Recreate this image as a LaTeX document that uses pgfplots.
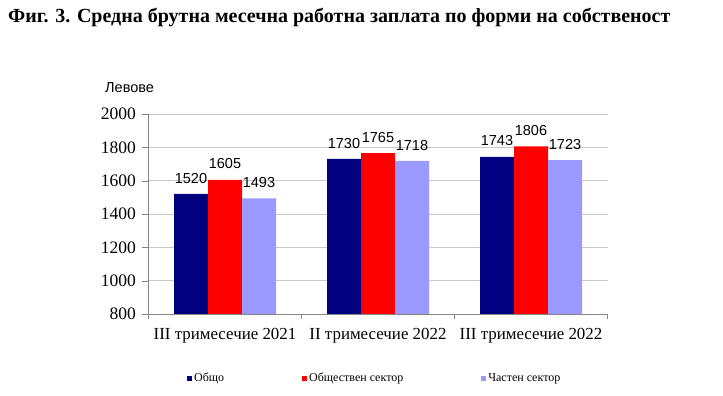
\documentclass[border=0pt]{standalone}
\usepackage{pgfplots}
\pgfplotsset{compat=1.18}
\usepackage{fontspec}
\setmainfont{Liberation Serif}
\newfontfamily\arial{Liberation Sans}
\definecolor{cA}{HTML}{000080}
\definecolor{cB}{HTML}{FF0000}
\definecolor{cC}{HTML}{9999FF}
\definecolor{axisgray}{HTML}{868686}
\definecolor{gridgray}{HTML}{C8C8C8}
\pgfplotsset{/pgfplots/ybar legend/.style={/pgfplots/legend image code/.code={\fill[##1] (0pt,-2.5pt) rectangle (5pt,2.5pt);}}}
\begin{document}
\begin{tikzpicture}[x=1pt,y=1pt]
\path (0,0) rectangle (723,396);
\node[anchor=base west, inner sep=0, font=\fontsize{20}{22}\selectfont\bfseries] at (8,373) {Фиг. 3. Средна брутна месечна работна заплата по форми на собственост};
\node[anchor=west, inner sep=0, font=\arial\fontsize{14.5}{16}\selectfont] at (105,308.5) {Левове};
\begin{axis}[
  at={(148.5pt,82pt)}, anchor=south west, scale only axis, width=459pt, height=200pt,
  ybar=0pt, bar width=34pt,
  xmin=-0.5, xmax=2.5, ymin=800, ymax=2000,
  ytick={800,1000,...,2000},
  xtick={0,1,2},
  xticklabels={III тримесечие 2021, II тримесечие 2022, III тримесечие 2022},
  minor xtick={-0.5,0.5,1.5,2.5},
  major x tick style={draw=none},
  tick align=outside, major tick length=6pt, minor tick length=5pt,
  axis lines*=left,
  axis line style={draw=axisgray},
  tick style={draw=axisgray},
  ymajorgrids, grid style={draw=gridgray},
  /pgf/number format/assume math mode=true,
  /pgf/number format/1000 sep={},
  yticklabel style={font=\fontsize{17.5}{19}\selectfont, xshift=-3pt},
  xticklabel style={font=\fontsize{16.9}{18}\selectfont, yshift=-5pt},
  nodes near coords,
  nodes near coords style={font=\arial\fontsize{14.5}{16}\selectfont, anchor=south, inner sep=0pt, yshift=10.5pt, text=black},
  legend columns=3,
  legend style={at={(axis description cs:0.0839,-0.32)}, anchor=west, draw=none, fill=none, inner sep=0pt,
    font=\fontsize{12}{14}\selectfont, nodes={inner sep=0pt},
    /tikz/every odd column/.append style={column sep=2pt},
    /tikz/every even column/.append style={column sep=78pt}},
  legend cell align=left,
]
\addplot[fill=cA, draw=none] coordinates {(0,1520) (1,1730) (2,1743)};
\addplot[fill=cB, draw=none] coordinates {(0,1605) (1,1765) (2,1806)};
\addplot[fill=cC, draw=none] coordinates {(0,1493) (1,1718) (2,1723)};
\legend{Общо, Обществен сектор, Частен сектор}
\end{axis}
\end{tikzpicture}
\end{document}
